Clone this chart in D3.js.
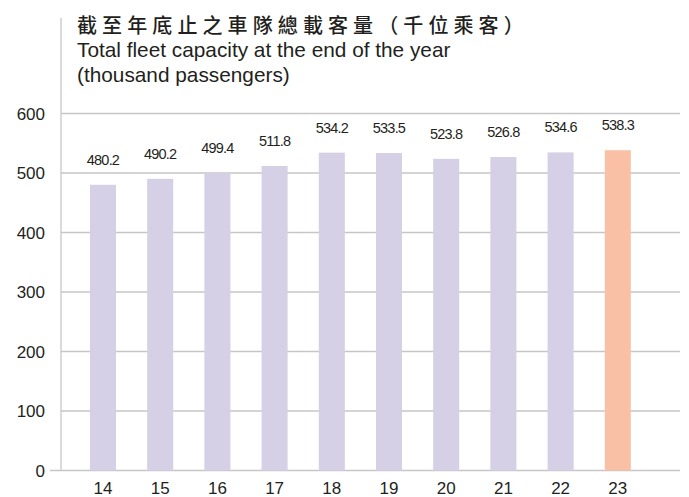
<!DOCTYPE html>
<html>
<head>
<meta charset="utf-8">
<script src="https://cdn.jsdelivr.net/npm/d3@7"></script>
<style>
  body { margin: 0; background: #fff; }
  text { fill: #231f20; }
</style>
</head>
<body>
<div id="chart"></div>
<script>
// data
const years = ['14', '15', '16', '17', '18', '19', '20', '21', '22', '23'];
const capacity = [480.2, 490.2, 499.4, 511.8, 534.2, 533.5, 523.8, 526.8, 534.6, 538.3];
const yTicks = [0, 100, 200, 300, 400, 500, 600];

const width = 689, height = 497;

const svg = d3.select('#chart').append('svg')
    .attr('width', width)
    .attr('height', height);

// scales
const x = d3.scaleBand()
    .domain(years)
    .range([74.4, 646.4])
    .paddingInner(0.545)
    .paddingOuter(0.2725);

const y = d3.scaleLinear()
    .domain([0, 600])
    .range([470.5, 113.5]);

// gridlines
svg.append('g')
    .selectAll('line')
    .data(yTicks)
    .join('line')
    .attr('x1', d => d === 0 ? 50 : 61)
    .attr('x2', 680)
    .attr('y1', d => y(d))
    .attr('y2', d => y(d))
    .attr('stroke', '#c6c6c6')
    .attr('stroke-width', 1.3);

// vertical axis line
svg.append('line')
    .attr('x1', 61).attr('x2', 61)
    .attr('y1', 18).attr('y2', y(0))
    .attr('stroke', '#c6c6c6')
    .attr('stroke-width', 1.3);

// y tick labels
svg.append('g')
    .selectAll('text')
    .data(yTicks)
    .join('text')
    .attr('x', 45)
    .attr('y', d => y(d) + 6)
    .attr('text-anchor', 'end')
    .style('font-family', 'Liberation Sans, Arial, sans-serif')
    .style('font-size', '17px')
    .text(d => d);

// bars
svg.append('g')
    .selectAll('rect')
    .data(capacity)
    .join('rect')
    .attr('x', (d, i) => x(years[i]))
    .attr('width', x.bandwidth())
    .attr('y', d => y(d))
    .attr('height', d => y(0) - y(d))
    .attr('fill', (d, i) => i === years.length - 1 ? '#f9c0a5' : '#d5d0e6');

// value labels
svg.append('g')
    .selectAll('text')
    .data(capacity)
    .join('text')
    .attr('x', (d, i) => x(years[i]) + x.bandwidth() / 2)
    .attr('y', d => y(d) - 20)
    .attr('text-anchor', 'middle')
    .style('font-family', 'Liberation Sans Narrow, Liberation Sans, Arial, sans-serif')
    .style('font-size', '14.5px')
    .style('letter-spacing', '-0.8px')
    .text(d => d.toFixed(1));

// x labels
svg.append('g')
    .selectAll('text')
    .data(years)
    .join('text')
    .attr('x', d => x(d) + x.bandwidth() / 2)
    .attr('y', 494)
    .attr('text-anchor', 'middle')
    .style('font-family', 'Liberation Sans, Arial, sans-serif')
    .style('font-size', '17px')
    .text(d => d);

// titles
svg.append('text')
    .attr('x', 77).attr('y', 33)
    .style('font-family', 'Noto Sans CJK TC, sans-serif')
    .style('font-size', '20px')
    .style('font-weight', '500')
    .style('letter-spacing', '5.1px')
    .text('截至年底止之車隊總載客量（千位乘客）');

svg.append('text')
    .attr('x', 77).attr('y', 57)
    .style('font-family', 'Liberation Sans, Arial, sans-serif')
    .style('font-size', '20.8px')
    .text('Total fleet capacity at the end of the year');

svg.append('text')
    .attr('x', 77).attr('y', 82)
    .style('font-family', 'Liberation Sans, Arial, sans-serif')
    .style('font-size', '20.8px')
    .text('(thousand passengers)');
</script>
</body>
</html>
